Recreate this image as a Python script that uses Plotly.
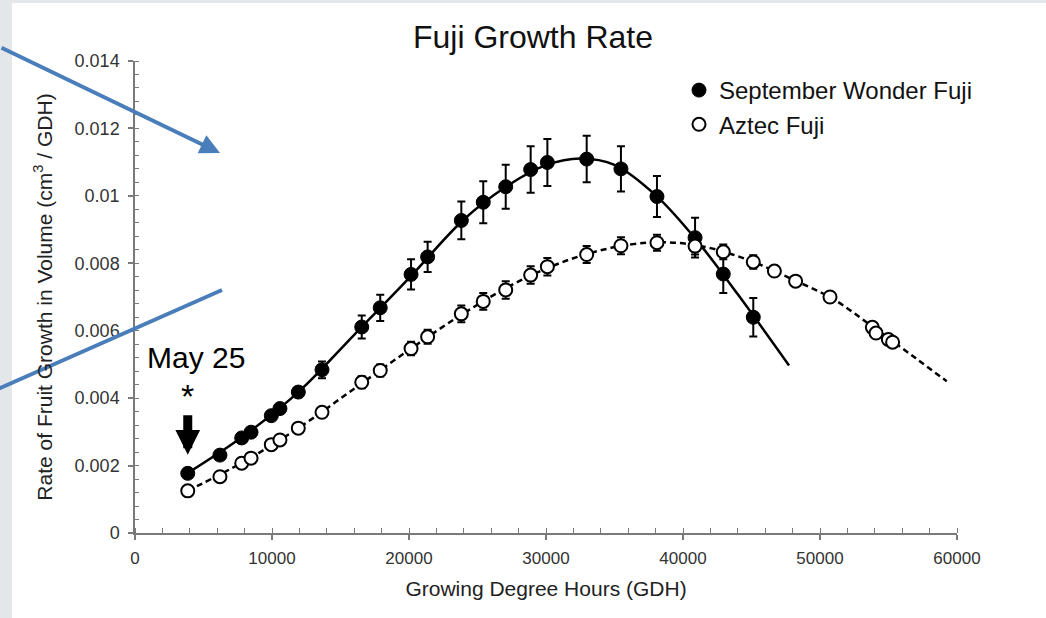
import plotly.graph_objects as go

# ---------------- data ----------------
gdh_sw = [3850, 6200, 7790, 8470, 9950, 10580, 11920, 13650, 16550, 17900, 20150, 21360,
          23820, 25420, 27060, 28880, 30100, 32970, 35470, 38100, 40880, 42940, 45130]
rate_sw = [0.00177, 0.00231, 0.00282, 0.00299, 0.00348, 0.00369, 0.00418, 0.00484, 0.00611,
           0.00668, 0.00767, 0.00819, 0.00927, 0.00981, 0.01027, 0.01078, 0.01099, 0.01109,
           0.01080, 0.00998, 0.00876, 0.00768, 0.00640]
err_sw = [0.0001, 0.0001, 0.0001, 0.0001, 0.00012, 0.00012, 0.00015, 0.00025, 0.00034, 0.00039,
          0.00045, 0.00045, 0.00056, 0.00062, 0.00065, 0.00069, 0.00070, 0.00069, 0.00067,
          0.00061, 0.00059, 0.00056, 0.00057]

gdh_az = [3850, 6200, 7790, 8470, 9950, 10580, 11920, 13650, 16550, 17900, 20150, 21360,
          23820, 25420, 27060, 28880, 30100, 32970, 35470, 38100, 40880, 42940, 45130,
          46670, 48220, 50730, 53820, 54090, 54990, 55300]
rate_az = [0.00125, 0.00167, 0.00207, 0.00222, 0.00262, 0.00276, 0.00311, 0.00358, 0.00447,
           0.00482, 0.00547, 0.00582, 0.00650, 0.00687, 0.00721, 0.00765, 0.00790, 0.00826,
           0.00852, 0.00861, 0.00851, 0.00834, 0.00804, 0.00777, 0.00747, 0.00700, 0.00610,
           0.00593, 0.00574, 0.00566]
err_az = [0.0001, 0.0001, 0.0001, 0.0001, 0.0001, 0.0001, 0.00012, 0.00015, 0.00018, 0.00018,
          0.00020, 0.00021, 0.00025, 0.00025, 0.00026, 0.00026, 0.00026, 0.00025, 0.00025,
          0.00024, 0.00025, 0.00022, 0.00020, 0.00015, 0.00012, 0.0001, 0.0001, 0.0001,
          0.0001, 0.0001]

# fitted trend curves
fit_sw_x = [3850, 8000, 12000, 16000, 20000, 24000, 27000, 30000, 32500, 35000, 38000, 41000,
            44000, 47740]
fit_sw_y = [0.00178, 0.00290, 0.00421, 0.00588, 0.00756, 0.00930, 0.01025, 0.01091, 0.01111,
            0.01092, 0.01002, 0.00868, 0.00708, 0.00497]
fit_az_x = [3850, 8000, 12000, 16000, 20000, 24000, 28000, 32000, 36000, 39000, 42000, 45000,
            48000, 51000, 54000, 57000, 59250]
fit_az_y = [0.00125, 0.00213, 0.00313, 0.00428, 0.00543, 0.00652, 0.00746, 0.00815, 0.00855,
            0.00862, 0.00845, 0.00806, 0.00752, 0.00693, 0.00607, 0.00518, 0.00450]

x_ticks = [0, 10000, 20000, 30000, 40000, 50000, 60000]
y_ticks = [0, 0.002, 0.004, 0.006, 0.008, 0.010, 0.012, 0.014]
y_ticktext = ["0", "0.002", "0.004", "0.006", "0.008", "0.01", "0.012", "0.014"]

# May 25 marker position
may_x = 3850
may_y = 0.00232

# ---------------- layout constants ----------------
W, H = 1046, 618
ML, MR, MT, MB = 135, 89, 61, 85
PW, PH = W - ML - MR, H - MT - MB


def px_to_paper_x(px):
    return (px - ML) / PW


def px_to_paper_y(py):
    return (H - MB - py) / PH


fig = go.Figure()

fig.add_trace(go.Scatter(x=fit_az_x, y=fit_az_y, mode="lines", line_shape="spline",
                         line=dict(color="black", width=2.5, dash="6px,4px"),
                         showlegend=False, hoverinfo="skip"))
fig.add_trace(go.Scatter(x=fit_sw_x, y=fit_sw_y, mode="lines", line_shape="spline",
                         line=dict(color="black", width=2.5),
                         showlegend=False, hoverinfo="skip"))
fig.add_trace(go.Scatter(x=gdh_sw, y=rate_sw, mode="markers", name="September Wonder Fuji",
                         marker=dict(symbol="circle", size=14, color="black",
                                     line=dict(color="black", width=1)),
                         error_y=dict(type="data", array=err_sw, color="black",
                                      thickness=2, width=4),
                         legendgroup="a"))
fig.add_trace(go.Scatter(x=gdh_az, y=rate_az, mode="markers", name="Aztec Fuji",
                         marker=dict(symbol="circle", size=13, color="white",
                                     line=dict(color="black", width=2)),
                         error_y=dict(type="data", array=err_az, color="black",
                                      thickness=2, width=4),
                         legendgroup="b"))

axis_col = "#7a7a7a"
fig.update_layout(
    width=W, height=H,
    margin=dict(l=ML, r=MR, t=MT, b=MB),
    paper_bgcolor="#e4e7e9",
    plot_bgcolor="white",
    title=dict(text="Fuji Growth Rate", x=533 / W, xanchor="center",
               y=1 - 37 / H, yanchor="middle",
               font=dict(family="Liberation Sans, Arial", size=32, color="#111111")),
    xaxis=dict(range=[0, 60000], tickvals=x_ticks, ticktext=[str(v) for v in x_ticks],
               showgrid=False, zeroline=False, showline=True, linecolor=axis_col,
               linewidth=1.5, ticks="outside", ticklen=5, tickwidth=1.5, tickcolor=axis_col,
               minor=dict(dtick=2000, ticks="inside", ticklen=5, tickwidth=1.2,
                          tickcolor=axis_col),
               ticklabelstandoff=4,
               tickfont=dict(family="Liberation Sans, Arial", size=17, color="#333333"),
               title=dict(text="Growing Degree Hours (GDH)", standoff=14,
                          font=dict(family="Liberation Sans, Arial", size=21,
                                    color="#222222"))),
    yaxis=dict(range=[0, 0.014], tickvals=y_ticks, ticktext=y_ticktext,
               showgrid=False, zeroline=False, showline=True, linecolor=axis_col,
               linewidth=1.5, ticks="outside", ticklen=5, tickwidth=1.5, tickcolor=axis_col,
               minor=dict(dtick=0.0004, ticks="inside", ticklen=4, tickwidth=1.2,
                          tickcolor=axis_col),
               ticklabelstandoff=5,
               tickfont=dict(family="Liberation Sans, Arial", size=18, color="#333333"),
               title=dict(text="Rate of Fruit Growth in Volume (cm<sup>3</sup> / GDH)",
                          standoff=16,
                          font=dict(family="Liberation Sans, Arial", size=21,
                                    color="#222222"))),
    xaxis2=dict(range=[0, 60000], overlaying="x", anchor="y", side="bottom",
                tickvals=x_ticks, showticklabels=False, ticks="inside", ticklen=5,
                tickwidth=1.5, tickcolor=axis_col, showgrid=False, zeroline=False,
                showline=False),
    legend=dict(x=px_to_paper_x(679), y=px_to_paper_y(68), xanchor="left", yanchor="top",
                bgcolor="rgba(0,0,0,0)", traceorder="grouped", tracegroupgap=0,
                itemwidth=30,
                font=dict(family="Liberation Sans, Arial", size=24, color="#111111")),
    showlegend=True,
)

# white page panel over the grey border
fig.add_shape(type="rect", xref="paper", yref="paper", layer="below",
              x0=px_to_paper_x(12), x1=px_to_paper_x(W + 5),
              y0=px_to_paper_y(H + 5), y1=px_to_paper_y(3),
              fillcolor="white", line=dict(width=0))

# annotations: May 25, asterisk, arrow
fig.add_annotation(x=may_x + 600, y=may_y + 0.0029, text="May 25", showarrow=False,
                   font=dict(family="Liberation Sans, Arial", size=30, color="black"))
fig.add_annotation(x=may_x, y=may_y + 0.00175, text="*", showarrow=False,
                   font=dict(family="Liberation Sans, Arial", size=34, color="black"))
fig.add_annotation(x=may_x, y=may_y, ax=0, ay=-41, text="", showarrow=True,
                   arrowhead=2, arrowsize=0.55, arrowwidth=9, arrowcolor="black", standoff=0)

# blue overlay arrows
blue = "#4a7ebb"
fig.add_annotation(xref="paper", yref="paper", x=px_to_paper_x(220), y=px_to_paper_y(153),
                   ax=-225, ay=-106, text="", showarrow=True, arrowhead=2, arrowsize=1.0,
                   arrowwidth=4, arrowcolor=blue, standoff=0)
fig.add_shape(type="line", xref="paper", yref="paper",
              x0=px_to_paper_x(-2), y0=px_to_paper_y(389),
              x1=px_to_paper_x(222), y1=px_to_paper_y(290),
              line=dict(color=blue, width=4))

fig.write_html("out.html")
